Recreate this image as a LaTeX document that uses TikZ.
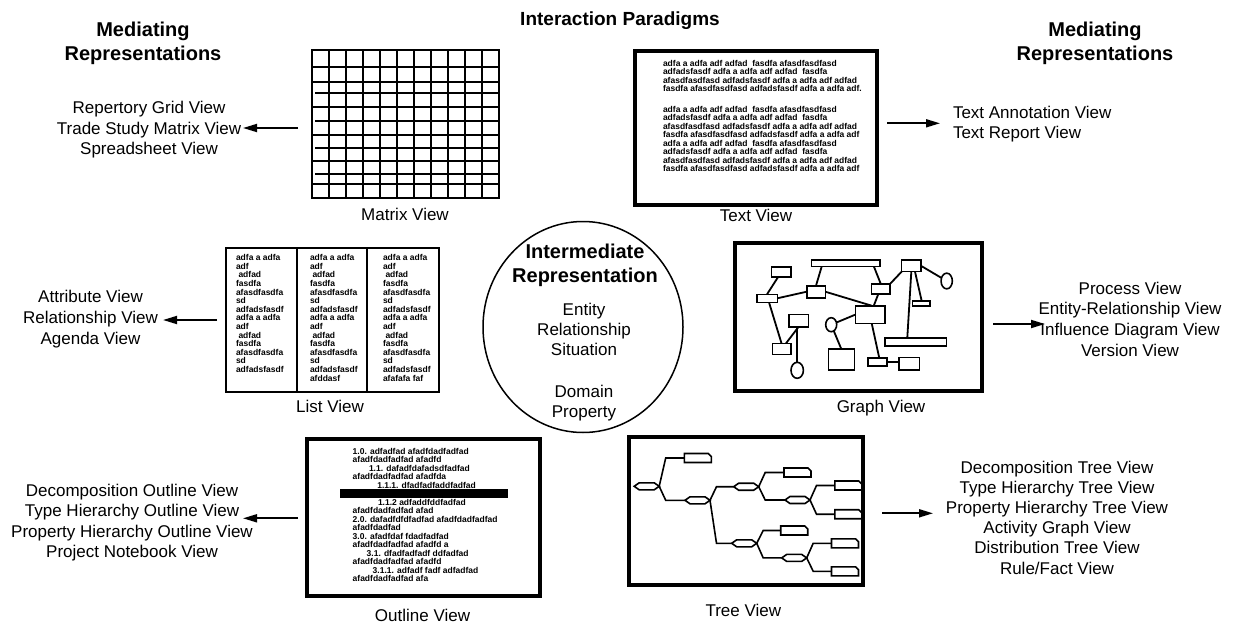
\documentclass[tikz,border=0pt]{standalone}
\usepackage{fontspec}
\setmainfont{Liberation Sans}
\usetikzlibrary{arrows.meta,calc,shapes.geometric}
\begin{document}
\begin{tikzpicture}[x=1pt,y=-1pt,
  every node/.style={inner sep=0pt, outer sep=0pt},
  label17/.style={font=\fontsize{17}{20.7}\selectfont, align=center, anchor=base},
  heading/.style={font=\bfseries\fontsize{20}{24}\selectfont, align=center, anchor=base},
  filler/.style={font=\bfseries\fontsize{8.5}{8.5}\selectfont, align=left, anchor=base west},
  thinframe/.style={draw, line width=1.8pt},
  thickframe/.style={draw, line width=4pt},
  gridline/.style={line width=1.8pt},
  pointer/.style={line width=1.8pt, -{Triangle[length=14pt,width=8pt]}},
  gbox/.style={draw, line width=1.6pt, rectangle},
  gcirc/.style={draw, line width=1.6pt, ellipse},
  gedge/.style={line width=1.8pt},
  hexbox/.style={minimum width=25pt, minimum height=7pt},
  tagbox/.style={minimum width=27pt, minimum height=9pt},
  tline/.style={line width=1.6pt},
]
\useasboundingbox (0,0) rectangle (1243,624);
% multi-line nodes are placed by the baseline of their last line

% ---------- headings ----------
\node[font=\bfseries\fontsize{19}{23}\selectfont, anchor=base] (title) at (620,25) {Interaction Paradigms};
\node[heading] (medLeft) at (143,60.5) {Mediating\\Representations};
\node[heading] (medRight) at (1095,60.5) {Mediating\\Representations};

% ---------- matrix view ----------
\node[thinframe, minimum width=187pt, minimum height=148pt] (matrixBox) at (405.5,124) {};
\foreach \x in {329,346,363,380,397,414,431,448,465,482}
  \draw[gridline] (\x,50) -- (\x,198);
\foreach \y in {67,82,107,135,161,184}
  \draw[gridline] (312,\y) -- (499,\y);
\foreach \y in {93,121,148,174}
  \draw[gridline] (315,\y) -- (499,\y);
\node[label17] (matrixLabel) at (405,220) {Matrix View};
\node[label17] (matrixItems) at (149,154.8) {Repertory Grid View\\Trade Study Matrix View\\Spreadsheet View};
\coordinate (matrixFrom) at (298,128);
\coordinate (matrixTo) at (243,128);
\draw[pointer] (matrixFrom) -- (matrixTo);

% ---------- text view ----------
\node[thickframe, minimum width=242pt, minimum height=154pt] (textBox) at (756,128) {};
\node[filler] (textParaA) at (663,91.5) {adfa a adfa adf adfad\ \ fasdfa afasdfasdfasd\\
adfadsfasdf adfa a adfa adf adfad\ \ fasdfa\\
afasdfasdfasd adfadsfasdf adfa a adfa adf adfad\\
fasdfa afasdfasdfasd adfadsfasdf adfa a adfa adf.};
\node[filler] (textParaB) at (663,171.5) {adfa a adfa adf adfad\ \ fasdfa afasdfasdfasd\\
adfadsfasdf adfa a adfa adf adfad\ \ fasdfa\\
afasdfasdfasd adfadsfasdf adfa a adfa adf adfad\\
fasdfa afasdfasdfasd adfadsfasdf adfa a adfa adf\\
adfa a adfa adf adfad\ \ fasdfa afasdfasdfasd\\
adfadsfasdf adfa a adfa adf adfad\ \ fasdfa\\
afasdfasdfasd adfadsfasdf adfa a adfa adf adfad\\
fasdfa afasdfasdfasd adfadsfasdf adfa a adfa adf};
\node[label17] (textLabel) at (756,221) {Text View};
\node[font=\fontsize{17}{20}\selectfont, align=left, anchor=base west] (textItems) at (953,138) {Text Annotation View\\Text Report View};
\coordinate (textFrom) at (887,123.3);
\coordinate (textTo) at (940,123.3);
\draw[pointer] (textFrom) -- (textTo);

% ---------- list view ----------
\node[thinframe, minimum width=213pt, minimum height=144pt] (listBox) at (332.5,320) {};
\draw[gridline] (297,248) -- (297,392);
\draw[gridline] (367,248) -- (367,392);
\tikzset{listtext/.style={filler, font=\bfseries\fontsize{8.5}{8.6}\selectfont}}
\node[listtext] (listColA) at (236,372.5) {adfa a adfa\\adf\\\hspace*{2.5pt}adfad\\fasdfa\\afasdfasdfa\\sd\\adfadsfasdf\\adfa a adfa\\adf\\\hspace*{2.5pt}adfad\\fasdfa\\afasdfasdfa\\sd\\adfadsfasdf};
\node[listtext] (listColB) at (310,381.1) {adfa a adfa\\adf\\\hspace*{2.5pt}adfad\\fasdfa\\afasdfasdfa\\sd\\adfadsfasdf\\adfa a adfa\\adf\\\hspace*{2.5pt}adfad\\fasdfa\\afasdfasdfa\\sd\\adfadsfasdf\\afddasf};
\node[listtext] (listColC) at (383,381.1) {adfa a adfa\\adf\\\hspace*{2.5pt}adfad\\fasdfa\\afasdfasdfa\\sd\\adfadsfasdf\\adfa a adfa\\adf\\\hspace*{2.5pt}adfad\\fasdfa\\afasdfasdfa\\sd\\adfadsfasdf\\afafafa faf};
\node[label17] (listLabel) at (330,412.8) {List View};
\node[label17] (listItems) at (90.5,344.2) {Attribute View\\Relationship View\\Agenda View};
\coordinate (listFrom) at (217,320);
\coordinate (listTo) at (163,320);
\draw[pointer] (listFrom) -- (listTo);

% ---------- intermediate representation ----------
\node[ellipse, draw, line width=1.5pt, minimum width=200pt, minimum height=211pt] (interm) at (583,327) {};
\node[heading, font=\bfseries\fontsize{20}{23.3}\selectfont] (intermTitle) at (585,282.2) {Intermediate\\Representation};
\node[label17, font=\fontsize{17}{20}\selectfont] (intermKinds) at (584,355.4) {Entity\\Relationship\\Situation};
\node[label17, font=\fontsize{17}{20}\selectfont] (intermScope) at (584,417.8) {Domain\\Property};

% ---------- graph view ----------
\node[thickframe, minimum width=246.7pt, minimum height=147.4pt] (graphBox) at (858.3,317) {};
\node[gbox, minimum width=19.3pt, minimum height=10pt] (r1) at (781.3,271.7) {};
\node[gbox, minimum width=20.6pt, minimum height=8pt] (r2) at (767,298.3) {};
\node[gbox, minimum width=68.3pt, minimum height=6.7pt] (r3) at (845.8,263.3) {};
\node[gbox, minimum width=18.6pt, minimum height=12pt] (r4) at (816,291.7) {};
\node[gbox, minimum width=18.3pt, minimum height=10pt] (r5) at (880.8,289) {};
\node[gbox, minimum width=19.3pt, minimum height=11.7pt] (r6) at (911.3,265.8) {};
\node[gbox, minimum width=17.7pt, minimum height=5pt] (r7) at (921.2,303.5) {};
\node[gcirc, minimum width=11.3pt, minimum height=15.7pt] (c1) at (946.7,281) {};
\node[gbox, minimum width=29.3pt, minimum height=17.6pt] (r8) at (870.3,314.5) {};
\node[gcirc, minimum width=11pt, minimum height=14pt] (c2) at (831.2,324.7) {};
\node[gbox, minimum width=19.3pt, minimum height=12.4pt] (r9) at (798.7,320.5) {};
\node[gbox, minimum width=18.4pt, minimum height=11pt] (r10) at (781.5,348.8) {};
\node[gcirc, minimum width=12.4pt, minimum height=16pt] (c3) at (797.2,370.3) {};
\node[gbox, minimum width=26pt, minimum height=21pt] (r11) at (841.3,359.5) {};
\node[gbox, minimum width=61.7pt, minimum height=8pt] (r12) at (915.8,341.7) {};
\node[gbox, minimum width=19pt, minimum height=8pt] (r13) at (877.2,361.7) {};
\node[gbox, minimum width=20.3pt, minimum height=12.7pt] (r14) at (909.2,363.7) {};
\draw[gedge] ([xshift=-3pt]r1.south) -- (r2.north);
\draw[gedge] (r2.east) -- (r4.west);
\draw[gedge] (r4.north) -- ([xshift=10pt]r3.south west);
\draw[gedge] ([xshift=-6pt]r3.south east) -- (r5.north);
\draw[gedge] (r4.east) -- ([xshift=1.4pt]r8.north);
\draw[gedge] ([xshift=-2.5pt]r5.south) -- ([xshift=3.5pt]r8.north);
\draw[gedge] (r5.north east) -- (r6.south west);
\draw[gedge] (r6.east) -- (c1);
\draw[gedge] ([xshift=3.7pt]r6.south) -- ([xshift=0.5pt]r7.north);
\draw[gedge] (r6.south) -- ([xshift=-8.5pt]r12.north);
\draw[gedge] (r8.west) -- (c2);
\draw[gedge] (c2) -- (r11.north);
\draw[gedge] ([xshift=1.4pt]r8.south) -- ([xshift=2pt]r13.north);
\draw[gedge] (r13.east) -- (r13.east -| r14.west);
\draw[gedge] ([xshift=2pt]r2.south) -- (r10.north);
\draw[gedge] ([xshift=4.5pt]r10.north) -- (r9.south);
\draw[gedge] (c3.north |- r9.south) -- (c3.north);
\node[label17] (graphLabel) at (881,412.8) {Graph View};
\node[label17] (graphItems) at (1130,356.1) {Process View\\Entity-Relationship View\\Influence Diagram View\\Version View};
\coordinate (graphFrom) at (993,324);
\coordinate (graphTo) at (1045,324);
\draw[pointer] (graphFrom) -- (graphTo);

% ---------- outline view ----------
\node[thickframe, minimum width=233.3pt, minimum height=157pt] (outlineBox) at (423.3,517.5) {};
\node[filler] (outlineText) at (352.7,581.5) {1.0. adfadfad afadfdadfadfad\\
afadfdadfadfad afadfd\\
\hspace*{16.3pt}1.1. dafadfdafadsdfadfad\\
afadfdadfadfad afadfda\\
\hspace*{24.6pt}1.1.1. dfadfadfaddfadfad\\[8.5pt]
\hspace*{25.3pt}1.1.2 adfaddfddfadfad\\
afadfdadfadfad afad\\
2.0. dafadfdfdfadfad afadfdadfadfad\\
afadfdadfad\\
3.0. afadfdaf fdadfadfad\\
afadfdadfadfad afadfd a\\
\hspace*{14pt}3.1. dfadfadfadf ddfadfad\\
afadfdadfadfad afadfd\\
\hspace*{20pt}3.1.1. adfadf fadf adfadfad\\
afadfdadfadfad afa};
\node[fill=black, minimum width=168.3pt, minimum height=8.7pt] (outlineBar) at (424.2,493.3) {};
\node[label17] (outlineLabel) at (422.5,621) {Outline View};
\node[label17, font=\fontsize{17}{20.6}\selectfont] (outlineItems) at (132,557.9) {Decomposition Outline View\\Type Hierarchy Outline View\\Property Hierarchy Outline View\\Project Notebook View};
\coordinate (outlineFrom) at (298,518.3);
\coordinate (outlineTo) at (243,518.3);
\draw[pointer] (outlineFrom) -- (outlineTo);

% ---------- tree view ----------
\node[thickframe, minimum width=234pt, minimum height=148pt] (treeBox) at (746.3,511) {};
\node[hexbox] (h1) at (646.7,486.3) {};
\node[tagbox] (t1) at (697.8,458) {};
\node[hexbox] (h2) at (697.5,500.3) {};
\node[hexbox] (h3) at (746.2,486.7) {};
\node[hexbox] (h4) at (744.2,543.3) {};
\node[tagbox] (t2) at (797.5,472.5) {};
\node[hexbox] (h5) at (797.5,500) {};
\node[tagbox] (t3) at (848.3,485.5) {};
\node[tagbox] (t4) at (848.3,514.2) {};
\node[tagbox] (t5) at (794.2,530.5) {};
\node[hexbox] (h6) at (794.2,557.9) {};
\node[tagbox] (t6) at (845,543.3) {};
\node[tagbox] (t7) at (845,571.3) {};
\foreach \n in {h1,h2,h3,h4,h5,h6}
  \draw[tline] (\n.west) -- ([xshift=5pt]\n.north west) -- ([xshift=-5pt]\n.north east)
    -- (\n.east) -- ([xshift=-5pt]\n.south east) -- ([xshift=5pt]\n.south west) -- cycle;
\foreach \n in {t1,t2,t3,t4,t5,t6,t7}
  \draw[tline] (\n.south west) -- (\n.north west) -- ([xshift=-3pt]\n.north east)
    -- ([yshift=-3pt]\n.north east) -- (\n.south east) -- cycle;
\foreach \a/\b in {h1/t1,h1/h2,h2/h3,h2/h4,h3/t2,h3/h5,h5/t3,h5/t4,h4/t5,h4/h6,h6/t6,h6/t7}
  \draw[tline] (\a.east) -- ($(\a.east |- \b.west)+(6.5,0)$) -- (\b.west);
\node[label17] (treeLabel) at (743.3,616) {Tree View};
\node[label17, font=\fontsize{17}{20.2}\selectfont] (treeItems) at (1057,574) {Decomposition Tree View\\Type Hierarchy Tree View\\Property Hierarchy Tree View\\Activity Graph View\\Distribution Tree View\\Rule/Fact View};
\coordinate (treeFrom) at (882,513.3);
\coordinate (treeTo) at (933,513.3);
\draw[pointer] (treeFrom) -- (treeTo);
\end{tikzpicture}
\end{document}
